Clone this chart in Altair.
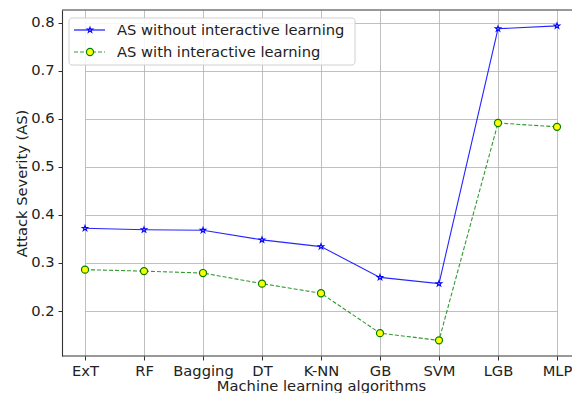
import altair as alt
import pandas as pd

algorithms = ["ExT", "RF", "Bagging", "DT", "K-NN", "GB", "SVM", "LGB", "MLP"]
as_without = [0.372, 0.369, 0.368, 0.348, 0.334, 0.270, 0.257, 0.787, 0.793]
as_with = [0.286, 0.283, 0.279, 0.257, 0.237, 0.154, 0.139, 0.591, 0.583]
series_names = ["AS without interactive learning", "AS with interactive learning"]
y_ticks = [0.2, 0.3, 0.4, 0.5, 0.6, 0.7, 0.8]

df = pd.DataFrame({
    "alg": algorithms * 2,
    "val": as_without + as_with,
    "series": [series_names[0]] * len(algorithms) + [series_names[1]] * len(algorithms),
})
d_blue = df[df.series == series_names[0]]
d_green = df[df.series == series_names[1]]

STAR = ("M0,-1 L0.2245,-0.309 L0.951,-0.309 L0.363,0.118 L0.588,0.809 "
        "L0,0.382 L-0.588,0.809 L-0.363,0.118 L-0.951,-0.309 L-0.2245,-0.309 Z")
FONT = "DejaVu Sans"
FS = 14.7
W, H = 510, 346

x_enc = alt.X("alg:N", sort=algorithms, title="Machine learning algorithms",
              scale=alt.Scale(type="point", padding=0, range=[23, 495]),
              axis=alt.Axis(labelAngle=0, grid=True, domain=False, ticks=True,
                            tickSize=4, tickColor="#333", labelPadding=3,
                            titlePadding=1))
y_enc = alt.Y("val:Q", title="Attack Severity (AS)",
              scale=alt.Scale(domain=[0.1065, 0.826], nice=False, zero=False),
              axis=alt.Axis(values=y_ticks, format=".1f", grid=True, domain=True,
                            tickSize=4, tickColor="#333", labelPadding=4,
                            titleX=-40, titleBaseline="middle"))

blue_line = alt.Chart(d_blue).mark_line(color="blue", strokeWidth=1.1, opacity=0.85).encode(x=x_enc, y=y_enc)
green_line = alt.Chart(d_green).mark_line(color="green", strokeWidth=1.1, strokeDash=[4, 2], opacity=0.8).encode(x=x_enc, y=y_enc)
blue_pts = alt.Chart(d_blue).mark_point(shape=STAR, size=32, filled=True, fill="#dde0ff",
                                        stroke="blue", strokeWidth=1.1, opacity=1).encode(x=x_enc, y=y_enc)
green_pts = alt.Chart(d_green).mark_point(shape="circle", size=50, filled=True, fill="yellow",
                                          stroke="green", strokeWidth=1.2, opacity=1).encode(x=x_enc, y=y_enc)

leg_df1 = pd.DataFrame({"s": [series_names[0]]})
leg_df2 = pd.DataFrame({"s": [series_names[1]]})

# frame lines (the right side of the original frame is cut off)
top_frame = alt.Chart(leg_df1).mark_rule(color="#333", strokeWidth=1.1).encode(
    x=alt.value(0), x2=alt.value(W), y=alt.value(0))
bottom_frame = alt.Chart(leg_df1).mark_rule(color="#333", strokeWidth=1.1).encode(
    x=alt.value(0), x2=alt.value(W), y=alt.value(H))

# legend
leg_box = alt.Chart(leg_df1).mark_rect(fill="white", fillOpacity=0.85, stroke="#d0d0d0",
                                       strokeWidth=1, cornerRadius=3).encode(
    x=alt.value(7), x2=alt.value(293), y=alt.value(8), y2=alt.value(55))
leg_l1 = alt.Chart(leg_df1).mark_rule(color="blue", strokeWidth=1.1).encode(
    x=alt.value(12), x2=alt.value(43), y=alt.value(20))
leg_p1 = alt.Chart(leg_df1).mark_point(shape=STAR, size=32, filled=True, fill="#dde0ff",
                                       stroke="blue", strokeWidth=1.1, opacity=1).encode(
    x=alt.value(28), y=alt.value(20))
leg_t1 = alt.Chart(leg_df1).mark_text(align="left", baseline="middle", font=FONT, fontSize=FS,
                                      color="#222").encode(
    x=alt.value(55), y=alt.value(20.5), text="s:N")
leg_l2 = alt.Chart(leg_df2).mark_rule(color="green", strokeWidth=1.1, strokeDash=[4, 2], opacity=0.8).encode(
    x=alt.value(12), x2=alt.value(43), y=alt.value(42))
leg_p2 = alt.Chart(leg_df2).mark_point(shape="circle", size=50, filled=True, fill="yellow",
                                       stroke="green", strokeWidth=1.2, opacity=1).encode(
    x=alt.value(28), y=alt.value(42))
leg_t2 = alt.Chart(leg_df2).mark_text(align="left", baseline="middle", font=FONT, fontSize=FS,
                                      color="#222").encode(
    x=alt.value(55), y=alt.value(42.5), text="s:N")

chart = alt.layer(
    blue_line, green_line, blue_pts, green_pts, top_frame, bottom_frame,
    leg_box, leg_l1, leg_p1, leg_t1, leg_l2, leg_p2, leg_t2,
).properties(
    width=W, height=H,
    autosize=alt.AutoSizeParams(type="none"),
    padding={"left": 54, "top": 2, "right": 0, "bottom": 37},
).configure_view(
    stroke=None
).configure_axis(
    labelFont=FONT, titleFont=FONT, labelFontSize=FS, titleFontSize=FS,
    labelColor="#222", titleColor="#222", titleFontWeight="normal",
    gridColor="#b0b0b0", gridWidth=1, gridOpacity=0.8,
    domainColor="#333", domainWidth=1.1,
)

chart.save("out.html", embed_options={"renderer": "svg", "actions": False})
